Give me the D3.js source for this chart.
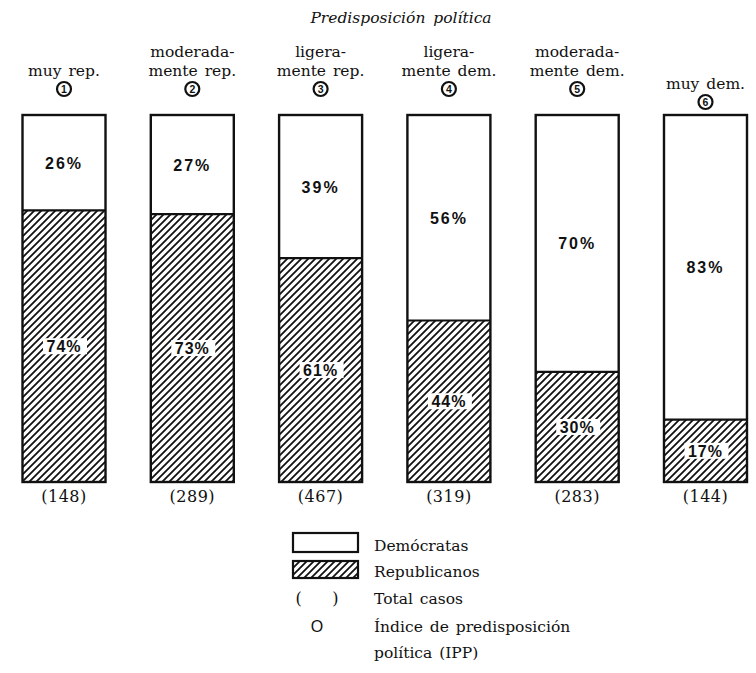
<!DOCTYPE html>
<html>
<head>
<meta charset="utf-8">
<script src="https://cdn.jsdelivr.net/npm/d3@7"></script>
<style>
  body { margin: 0; background: #fff; }
  svg text { fill: #111; }
  .serif { font-family: "DejaVu Serif", "Liberation Serif", serif; }
  .pct { font-family: "Liberation Sans", Arial, sans-serif; font-weight: bold; }
</style>
</head>
<body>
<div id="main"></div>
<script>
// data
const categories = ["muy rep.", "moderadamente rep.", "ligeramente rep.", "ligeramente dem.", "moderadamente dem.", "muy dem."];
const catLines = [["muy rep."], ["moderada-", "mente rep."], ["ligera-", "mente rep."], ["ligera-", "mente dem."], ["moderada-", "mente dem."], ["muy dem."]];
const ipp = [1, 2, 3, 4, 5, 6];
const democratas = [26, 27, 39, 56, 70, 83];
const republicanos = [74, 73, 61, 44, 30, 17];
const totalCasos = [148, 289, 467, 319, 283, 144];

const width = 756, height = 673;
const barTop = 115, barBottom = 482;

const svg = d3.select('#main').append('svg')
  .attr('width', width).attr('height', height);

// hatch pattern
const defs = svg.append('defs');
defs.append('pattern').attr('id', 'hatch')
  .attr('patternUnits', 'userSpaceOnUse')
  .attr('width', 7).attr('height', 7)
  .append('path')
  .attr('d', 'M-1,1 l2,-2 M0,7 l7,-7 M6,8 l2,-2')
  .attr('stroke', '#111').attr('stroke-width', 1.8);

const xScale = d3.scaleBand().domain(categories).range([22.5, 747]).paddingInner(0.353).paddingOuter(0);
const yScale = d3.scaleLinear().domain([0, 100]).range([barBottom, barTop]);
const bw = xScale.bandwidth();

// title
svg.append('text').attr('class', 'serif')
  .attr('x', 401).attr('y', 23).attr('text-anchor', 'middle')
  .style('font-style', 'italic').style('font-size', '15.5px').style('word-spacing', '3px')
  .text('Predisposición política');

const groups = svg.selectAll('g.bar').data(categories).enter()
  .append('g').attr('class', 'bar');

// republicanos (bottom, hatched)
groups.append('rect')
  .attr('x', d => xScale(d))
  .attr('y', (d, i) => yScale(republicanos[i]))
  .attr('width', bw)
  .attr('height', (d, i) => yScale(0) - yScale(republicanos[i]))
  .attr('fill', 'url(#hatch)');

// democratas (top, white)
groups.append('rect')
  .attr('x', d => xScale(d))
  .attr('y', (d, i) => yScale(100))
  .attr('width', bw)
  .attr('height', (d, i) => yScale(republicanos[i]) - yScale(100))
  .attr('fill', '#fff');

// divider + outline
groups.append('line')
  .attr('x1', d => xScale(d)).attr('x2', d => xScale(d) + bw)
  .attr('y1', (d, i) => yScale(republicanos[i])).attr('y2', (d, i) => yScale(republicanos[i]))
  .attr('stroke', '#111').attr('stroke-width', 2.2);
groups.append('rect')
  .attr('x', d => xScale(d)).attr('y', yScale(100))
  .attr('width', bw).attr('height', yScale(0) - yScale(100))
  .attr('fill', 'none').attr('stroke', '#111').attr('stroke-width', 2.4);

// dem labels
groups.append('text').attr('class', 'pct')
  .attr('x', d => xScale(d) + bw / 2)
  .attr('y', (d, i) => (yScale(100) + yScale(republicanos[i])) / 2 + 6)
  .attr('text-anchor', 'middle').style('font-size', '16px').style('letter-spacing', '2px')
  .text((d, i) => democratas[i] + '%');

// rep labels with white box
groups.append('rect')
  .attr('x', d => xScale(d) + bw / 2 - 21)
  .attr('y', (d, i) => (yScale(republicanos[i]) + yScale(0)) / 2 - 8)
  .attr('width', 44).attr('height', 16)
  .attr('fill', '#fff');
groups.append('text').attr('class', 'pct')
  .attr('x', d => xScale(d) + bw / 2)
  .attr('y', (d, i) => (yScale(republicanos[i]) + yScale(0)) / 2 + 6)
  .attr('text-anchor', 'middle').style('font-size', '16px').style('letter-spacing', '1px')
  .text((d, i) => republicanos[i] + '%');

// category labels
groups.each(function(d, i) {
  const g = d3.select(this);
  const cx = xScale(d) + bw / 2;
  const lines = catLines[i];
  const shift = i === categories.length - 1 ? 13 : 0;
  lines.forEach((t, j) => {
    g.append('text').attr('class', 'serif')
      .attr('x', cx).attr('y', 76 - (lines.length - 1 - j) * 19 + shift)
      .attr('text-anchor', 'middle').style('font-size', '15.5px')
      .style('word-spacing', '2px')
      .text(t);
  });
  g.append('circle').attr('cx', cx).attr('cy', 89 + shift).attr('r', 7)
    .attr('fill', 'none').attr('stroke', '#111').attr('stroke-width', 2.2);
  g.append('text').attr('class', 'pct')
    .attr('x', cx).attr('y', 93 + shift).attr('text-anchor', 'middle')
    .style('font-size', '10.5px').text(ipp[i]);
});

// totals
groups.append('text').attr('class', 'serif')
  .attr('x', d => xScale(d) + bw / 2).attr('y', 502)
  .attr('text-anchor', 'middle').style('font-size', '16px').style('letter-spacing', '0.5px')
  .text((d, i) => '(' + totalCasos[i] + ')');

// legend
const legend = svg.append('g').attr('id', 'legend');
legend.append('rect').attr('x', 293).attr('y', 533).attr('width', 65).attr('height', 19)
  .attr('fill', '#fff').attr('stroke', '#111').attr('stroke-width', 2.2);
legend.append('rect').attr('x', 293).attr('y', 561).attr('width', 65).attr('height', 17)
  .attr('fill', 'url(#hatch)').attr('stroke', '#111').attr('stroke-width', 2.2);
const legendItems = [
  {sym: '', text: 'Demócratas', y: 551},
  {sym: '', text: 'Republicanos', y: 577},
  {sym: '(      )', text: 'Total casos', y: 604},
  {sym: 'O', text: 'Índice de predisposición', y: 632},
  {sym: '', text: 'política (IPP)', y: 658}
];
legendItems.forEach(it => {
  legend.append('text').attr('class', 'serif').attr('x', 374).attr('y', it.y)
    .style('font-size', '15.5px').style('word-spacing', '2px').text(it.text);
  if (it.sym) {
    legend.append('text').attr('x', 317).attr('y', it.y).attr('text-anchor', 'middle')
      .style('font-family', it.sym === 'O' ? 'Liberation Sans, sans-serif' : 'DejaVu Serif, serif')
      .style('font-size', '16px').style('white-space', 'pre').text(it.sym);
  }
});
</script>
</body>
</html>
